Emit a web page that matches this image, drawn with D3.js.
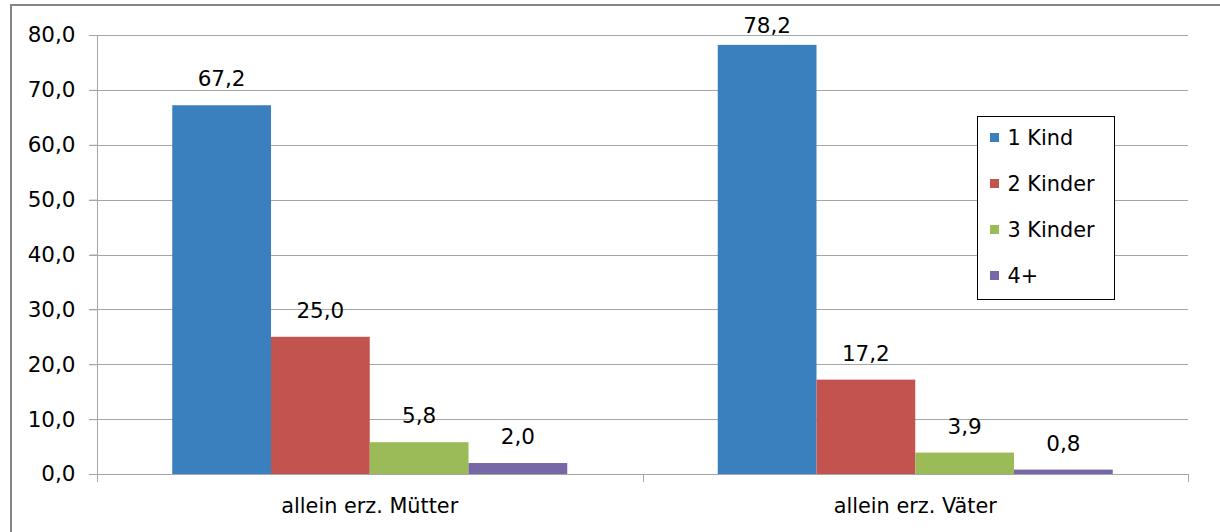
<!DOCTYPE html>
<html>
<head>
<meta charset="utf-8">
<script src="https://cdn.jsdelivr.net/npm/d3@7"></script>
<style>
  html, body { margin: 0; padding: 0; background: #fff; }
  svg { display: block; }
  text { font-family: "DejaVu Sans", sans-serif; fill: #000; }
</style>
</head>
<body>
<svg id="chart" width="1220" height="532"></svg>
<script>
// Anteil der Alleinerziehenden nach Zahl der Kinder (in %)
const categories = ["allein erz. Mütter", "allein erz. Väter"];
const seriesNames = ["1 Kind", "2 Kinder", "3 Kinder", "4+"];
const seriesColors = ["#3B80BE", "#C3534F", "#9BBB59", "#7767A6"];
const values = [
  [67.2, 25.0, 5.8, 2.0],   // allein erz. Mütter
  [78.2, 17.2, 3.9, 0.8]    // allein erz. Väter
];
const yTicks = [0, 10, 20, 30, 40, 50, 60, 70, 80];

const fmt = v => v.toFixed(1).replace(".", ",");
const numSize = 21.5, textSize = 20.8;

const svg = d3.select("#chart");
const W = 1220, H = 532;
const plot = { left: 97, right: 1188, top: 35, bottom: 474 };

// outer frame of the chart area (only top and left edges fall inside the view)
svg.append("path")
  .attr("d", `M11,${H} L11,5 L${W},5`)
  .attr("fill", "none")
  .attr("stroke", "#858585")
  .attr("stroke-width", 2);

const y = d3.scaleLinear().domain([0, 80]).range([plot.bottom, plot.top]);
const x0 = d3.scaleBand().domain(categories).range([plot.left, plot.right]).padding(0);
const x1 = d3.scaleBand().domain(seriesNames).range([0, x0.bandwidth()])
  .paddingInner(0).paddingOuter(0.762);

// horizontal gridlines
svg.append("g")
  .selectAll("line")
  .data(yTicks)
  .join("line")
  .attr("x1", plot.left - 8)
  .attr("x2", plot.right)
  .attr("y1", d => Math.round(y(d)) + 0.5)
  .attr("y2", d => Math.round(y(d)) + 0.5)
  .attr("stroke", "#A6A6A6")
  .attr("stroke-width", 1);

// y axis
const yAxis = svg.append("g")
  .attr("transform", `translate(${plot.left + 0.5},0)`)
  .call(d3.axisLeft(y).tickValues(yTicks).tickFormat(fmt).tickSize(8).tickPadding(14));
yAxis.select(".domain").attr("stroke", "#A6A6A6").attr("d", `M0,${plot.top}V${plot.bottom}`);
yAxis.selectAll(".tick line").attr("stroke", "#A6A6A6");
yAxis.selectAll(".tick text")
  .attr("font-family", "DejaVu Sans, sans-serif")
  .attr("font-size", numSize)
  .attr("fill", "#000");

// bars
const groups = svg.append("g")
  .selectAll("g")
  .data(categories)
  .join("g")
  .attr("transform", d => `translate(${x0(d)},0)`);

groups.selectAll("rect")
  .data((d, i) => values[i].map((v, j) => ({ v, s: seriesNames[j], c: seriesColors[j] })))
  .join("rect")
  .attr("x", d => x1(d.s))
  .attr("width", x1.bandwidth())
  .attr("y", d => y(d.v))
  .attr("height", d => y(0) - y(d.v))
  .attr("fill", d => d.c);

// value labels above bars, kept inside the chart area
groups.selectAll("text.val")
  .data((d, i) => values[i].map((v, j) => ({ v, s: seriesNames[j] })))
  .join("text")
  .attr("class", "val")
  .attr("x", d => x1(d.s) + x1.bandwidth() / 2)
  .attr("y", d => Math.max(y(d.v) - 19, 33))
  .attr("text-anchor", "middle")
  .attr("font-size", numSize)
  .text(d => fmt(d.v));

// x axis: category ticks
svg.append("g")
  .selectAll("line")
  .data(d3.range(categories.length + 1))
  .join("line")
  .attr("x1", i => Math.round(i < categories.length ? x0(categories[i]) : plot.right) + 0.5)
  .attr("x2", i => Math.round(i < categories.length ? x0(categories[i]) : plot.right) + 0.5)
  .attr("y1", plot.bottom)
  .attr("y2", plot.bottom + 8)
  .attr("stroke", "#A6A6A6");

svg.append("g")
  .selectAll("text")
  .data(categories)
  .join("text")
  .attr("x", d => x0(d) + x0.bandwidth() / 2)
  .attr("y", 513)
  .attr("text-anchor", "middle")
  .attr("font-size", textSize)
  .text(d => d);

// legend
const legend = svg.append("g").attr("transform", "translate(977.5,116.5)");
legend.append("rect")
  .attr("width", 137)
  .attr("height", 183)
  .attr("fill", "#fff")
  .attr("stroke", "#000")
  .attr("stroke-width", 1);
const items = legend.selectAll("g")
  .data(seriesNames)
  .join("g")
  .attr("transform", (d, i) => `translate(0,${21 + i * 46})`);
items.append("rect")
  .attr("x", 12.5)
  .attr("y", -4.5)
  .attr("width", 9)
  .attr("height", 9)
  .attr("fill", (d, i) => seriesColors[i]);
items.append("text")
  .attr("x", 30)
  .attr("y", 7)
  .attr("font-size", textSize)
  .text(d => d);
</script>
</body>
</html>
